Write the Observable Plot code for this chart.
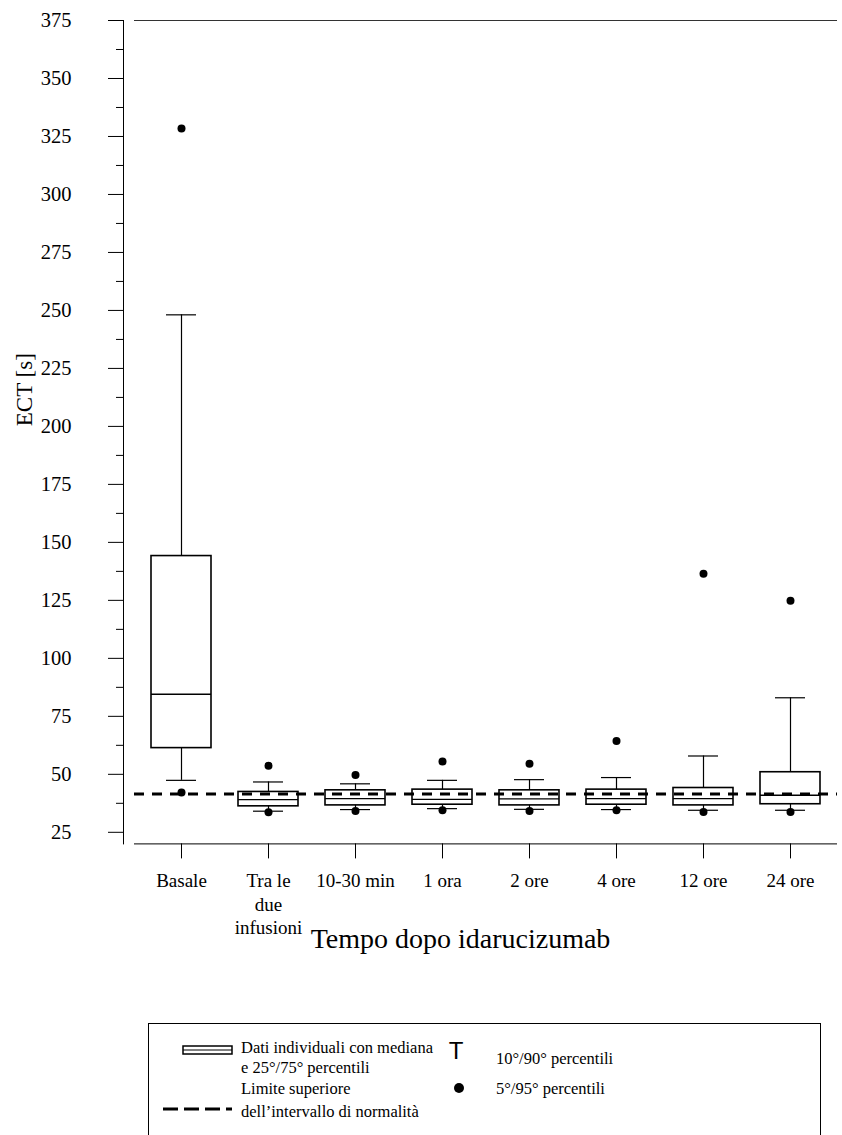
<!DOCTYPE html>
<html>
<head>
<meta charset="utf-8">
<script src="https://cdn.jsdelivr.net/npm/d3@7"></script>
<script src="https://cdn.jsdelivr.net/npm/@observablehq/plot@0.6"></script>
<style>
  body { margin: 0; background: #fff; }
  #wrap { position: relative; width: 842px; height: 1135px; overflow: hidden; background: #fff; }
  #legend { position: absolute; left: 148px; top: 1023px; width: 673px; height: 140px; border: 1px solid #000; box-sizing: border-box; }
  #legend svg { position: absolute; left: 0; top: 0; }
</style>
</head>
<body>
<div id="wrap">
  <div id="chart"></div>
  <div id="legend">
    <svg width="673" height="140" font-family="'Liberation Serif', 'Times New Roman', serif" font-size="16.5">
      <rect x="34" y="22" width="49" height="8" fill="none" stroke="#000" stroke-width="1.5"></rect>
      <line x1="34" y1="26" x2="83" y2="26" stroke="#000" stroke-width="1"></line>
      <text x="92" y="28.5">Dati individuali con mediana</text>
      <text x="92" y="48.5">e 25°/75° percentili</text>
      <text x="92" y="69.5">Limite superiore</text>
      <text x="92" y="92.5">dell’intervallo di normalità</text>
      <line x1="14" y1="85" x2="83" y2="85" stroke="#000" stroke-width="3" stroke-dasharray="15,6"></line>
      <text x="307" y="35" text-anchor="middle" font-family="'Liberation Sans', Arial, sans-serif" font-size="24">T</text>
      <text x="347" y="39.5">10°/90° percentili</text>
      <circle cx="310" cy="64" r="5" fill="#000"></circle>
      <text x="347" y="69.5">5°/95° percentili</text>
    </svg>
  </div>
</div>
<script>
// Categories (time points) and percentile series
const categories = ["Basale", "Tra le\ndue\ninfusioni", "10-30 min", "1 ora", "2 ore", "4 ore", "12 ore", "24 ore"];
const p5  = [42.2, 33.6, 34.2, 34.5, 34.2, 34.5, 33.8, 33.8];
const p10 = [47.4, 34.1, 34.8, 35.2, 34.9, 34.8, 34.5, 34.5];
const p25 = [61.3, 36.2, 36.6, 36.9, 36.6, 36.9, 36.6, 37.1];
const p50 = [84.5, 39.1, 39.5, 39.2, 39.4, 39.5, 39.5, 41.0];
const p75 = [144.1, 42.4, 43.1, 43.4, 43.1, 43.4, 44.1, 50.9];
const p90 = [248.1, 46.7, 45.9, 47.4, 47.7, 48.6, 57.9, 83.0];
const p95 = [328.4, 53.7, 49.7, 55.5, 54.6, 64.4, 136.5, 124.8];
const upperNormal = [41.5];
const yTicks = [25, 50, 75, 100, 125, 150, 175, 200, 225, 250, 275, 300, 325, 350, 375];
const yMinorTicks = [37.5, 62.5, 87.5, 112.5, 137.5, 162.5, 187.5, 212.5, 237.5, 262.5, 287.5, 312.5, 337.5, 362.5];
const yDomain = [20, 375];
const yLabel = "ECT [s]";
const xLabel = "Tempo dopo idarucizumab";

const rows = categories.map((c, i) => ({
  cat: c, p5: p5[i], p10: p10[i], p25: p25[i], p50: p50[i], p75: p75[i], p90: p90[i], p95: p95[i]
}));

const H = 960;
const chart = Plot.plot({
  width: 842,
  height: H,
  marginTop: 20,
  marginLeft: 123,
  marginRight: 5,
  marginBottom: H - 843.4,
  x: {domain: categories, range: [134, 837], paddingInner: 0.31, paddingOuter: 0.155, axis: null},
  y: {domain: yDomain, axis: null},
  style: {fontFamily: "Liberation Serif, Times New Roman, serif", fontSize: "20px", color: "#000", background: "#fff", overflow: "visible"},
  marks: [
    Plot.frame({anchor: "left", stroke: "#000"}),
    Plot.ruleY([yDomain[1]], {insetLeft: 11, stroke: "#333"}),
    Plot.ruleY([yDomain[0]], {insetLeft: 11, stroke: "#000"}),
    Plot.axisY({ticks: yTicks, tickSize: 15, tickPadding: 37, fontSize: 20.5, label: null}),
    Plot.axisY({ticks: yMinorTicks, tickSize: 7, tickFormat: () => "", label: null}),
    Plot.axisX({tickSize: 15, tickPadding: 12, fontSize: 19, label: null, lineHeight: 1.22}),
    Plot.text([yLabel], {frameAnchor: "left", rotate: -90, dx: -99, dy: -6, fontSize: 23}),
    Plot.text([xLabel], {frameAnchor: "bottom", lineAnchor: "middle", dx: -20, dy: 95, fontSize: 28}),
    Plot.ruleX(rows, {x: "cat", y1: "p10", y2: "p25", stroke: "#000", strokeWidth: 1.2}),
    Plot.ruleX(rows, {x: "cat", y1: "p75", y2: "p90", stroke: "#000", strokeWidth: 1.2}),
    Plot.tickY(rows, {x: "cat", y: "p10", insetLeft: 15, insetRight: 15, stroke: "#000", strokeWidth: 1.2}),
    Plot.tickY(rows, {x: "cat", y: "p90", insetLeft: 15, insetRight: 15, stroke: "#000", strokeWidth: 1.2}),
    Plot.barY(rows, {x: "cat", y1: "p25", y2: "p75", fill: "none", stroke: "#000", strokeWidth: 1.6}),
    Plot.tickY(rows, {x: "cat", y: "p50", stroke: "#000", strokeWidth: 1.4}),
    Plot.ruleY(upperNormal, {insetLeft: 11, stroke: "#000", strokeWidth: 3, strokeDasharray: "10,8"}),
    Plot.dot(rows, {x: "cat", y: "p5", r: 4, fill: "#000", stroke: "none"}),
    Plot.dot(rows, {x: "cat", y: "p95", r: 4, fill: "#000", stroke: "none"})
  ]
});
document.getElementById("chart").appendChild(chart);
</script>
</body>
</html>
